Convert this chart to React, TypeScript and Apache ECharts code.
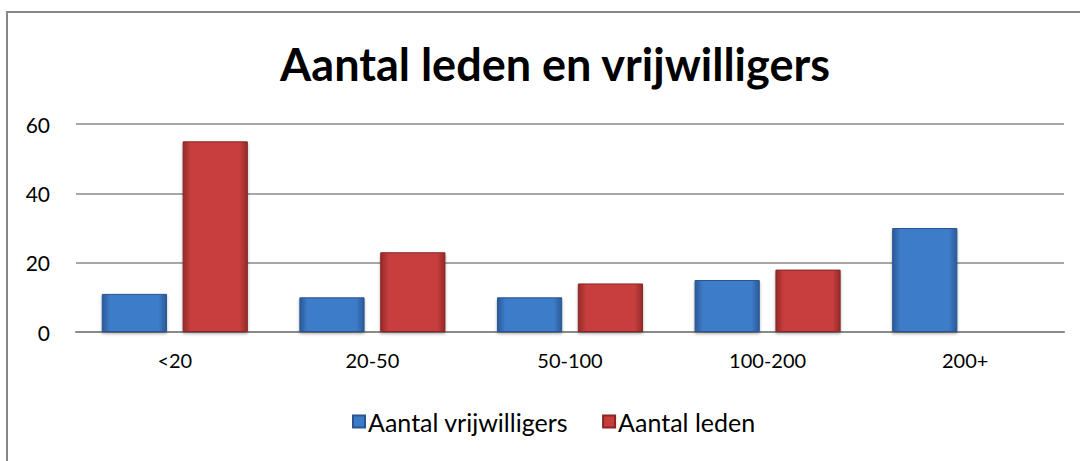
import React, { useEffect, useRef } from "react";
import * as echarts from "echarts";

const categories = ["<20", "20-50", "50-100", "100-200", "200+"];
const vrijwilligers = [11, 10, 10, 15, 30];
const leden = [55, 23, 14, 18, null];
const yTicks = [0, 20, 40, 60];

const FONT = "Lato, 'Open Sans', sans-serif";

function grad(edge: string, mid: string) {
  return new echarts.graphic.LinearGradient(0, 0, 1, 0, [
    { offset: 0, color: edge },
    { offset: 0.12, color: mid },
    { offset: 0.88, color: mid },
    { offset: 1, color: edge },
  ]);
}

export default function App() {
  const ref = useRef<HTMLDivElement>(null);
  useEffect(() => {
    if (!ref.current) return;
    const chart = echarts.init(ref.current, null, { renderer: "svg" });
    chart.setOption({
      animation: false,
      backgroundColor: "#ffffff",
      graphic: [
        {
          type: "rect",
          shape: { x: 7, y: 12, width: 1090, height: 470 },
          style: { fill: "none", stroke: "#878787", lineWidth: 2 },
          silent: true,
          z: -1,
        },
      ],
      title: {
        text: "Aantal leden en vrijwilligers",
        left: 550,
        top: 36,
        textAlign: "center",
        textStyle: { fontFamily: FONT, fontWeight: "bold", fontSize: 45, color: "#000" },
      },
      grid: { left: 76, right: 16, top: 124, bottom: 129 },
      legend: {
        top: 404,
        left: 347,
        itemWidth: 12,
        itemHeight: 12,
        itemGap: 34,
        icon: "rect",
        textStyle: { fontFamily: FONT, fontSize: 25, color: "#000", padding: [0, 0, 0, -2] },
        data: ["Aantal vrijwilligers", "Aantal leden"],
      },
      xAxis: {
        type: "category",
        data: categories,
        axisLine: { lineStyle: { color: "#8a8a8a", width: 2 } },
        axisTick: { show: false },
        axisLabel: { fontFamily: FONT, fontSize: 20, color: "#000", margin: 18 },
      },
      yAxis: {
        type: "value",
        min: yTicks[0],
        max: yTicks[yTicks.length - 1],
        interval: 20,
        axisLine: { show: false },
        axisTick: { show: false },
        splitLine: { lineStyle: { color: "#8a8a8a", width: 1.5 } },
        axisLabel: { fontFamily: FONT, fontSize: 21, color: "#000", margin: 26 },
      },
      series: [
        {
          name: "Aantal vrijwilligers",
          type: "bar",
          data: vrijwilligers,
          barWidth: "33%",
          barGap: "24%",
          itemStyle: {
            color: grad("#2a5a98", "#3d7bc8"),
            borderColor: "#2a5690",
            borderWidth: 1,
            shadowColor: "rgba(0,0,0,0.3)",
            shadowBlur: 3,
            shadowOffsetY: 2,
          },
        },
        {
          name: "Aantal leden",
          type: "bar",
          data: leden,
          barWidth: "33%",
          itemStyle: {
            color: grad("#922b2a", "#c83d3c"),
            borderColor: "#882625",
            borderWidth: 1,
            shadowColor: "rgba(0,0,0,0.3)",
            shadowBlur: 3,
            shadowOffsetY: 2,
          },
        },
      ],
    });
    return () => chart.dispose();
  }, []);
  return (
    <div
      ref={ref}
      style={{ position: "fixed", left: 0, top: 0, width: 1080, height: 461 }}
    />
  );
}
